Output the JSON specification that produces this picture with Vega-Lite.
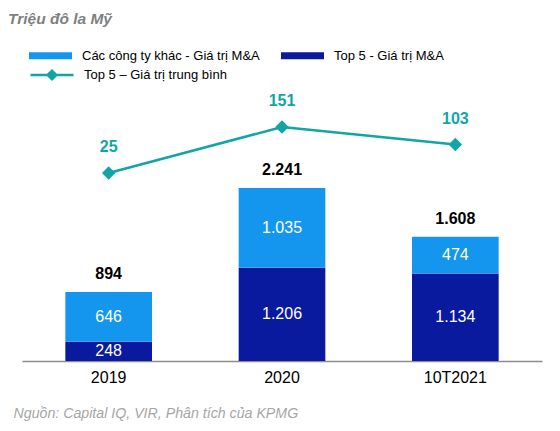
{
  "$schema": "https://vega.github.io/schema/vega-lite/v6.json",
  "autosize": {"type": "none"},
  "width": 520,
  "height": 261,
  "padding": {"left": 22, "top": 100, "right": 18, "bottom": 70},
  "background": "white",
  "config": {
    "view": {"stroke": null},
    "font": "Liberation Sans",
    "locale": {"number": {"decimal": ",", "thousands": ".", "grouping": [3], "currency": ["", ""]}}
  },
  "title": {
    "text": "Triệu đô la Mỹ",
    "anchor": "start",
    "frame": "group",
    "dx": -14,
    "dy": 13,
    "offset": 8,
    "baseline": "alphabetic",
    "font": "Liberation Sans",
    "fontSize": 15.5,
    "fontStyle": "italic",
    "fontWeight": "bold",
    "color": "#7f7f7f"
  },
  "datasets": {
    "bars": [
      {"year": "2019", "series": "Top 5 - Giá trị M&A", "value": 248, "ord": 1},
      {"year": "2019", "series": "Các công ty khác - Giá trị M&A", "value": 646, "ord": 2},
      {"year": "2020", "series": "Top 5 - Giá trị M&A", "value": 1206, "ord": 1},
      {"year": "2020", "series": "Các công ty khác - Giá trị M&A", "value": 1035, "ord": 2},
      {"year": "10T2021", "series": "Top 5 - Giá trị M&A", "value": 1134, "ord": 1},
      {"year": "10T2021", "series": "Các công ty khác - Giá trị M&A", "value": 474, "ord": 2}
    ],
    "years": [
      {"year": "2019", "total": 894, "avg": 25, "line": "Top 5 – Giá trị trung bình"},
      {"year": "2020", "total": 2241, "avg": 151, "line": "Top 5 – Giá trị trung bình"},
      {"year": "10T2021", "total": 1608, "avg": 103, "line": "Top 5 – Giá trị trung bình"}
    ]
  },
  "encoding": {
    "x": {
      "field": "year",
      "type": "nominal",
      "sort": ["2019", "2020", "10T2021"],
      "scale": {"paddingInner": 0.5, "paddingOuter": 0.25},
      "axis": {
        "title": "Nguồn: Capital IQ, VIR, Phân tích của KPMG",
        "titleAnchor": "start",
        "titleAlign": "left",
        "titleX": -9,
        "titleY": 56,
        "titleBaseline": "alphabetic",
        "titleFont": "Liberation Sans",
        "titleFontSize": 14.2,
        "titleFontStyle": "italic",
        "titleFontWeight": "normal",
        "titleColor": "#a6a6a6",
        "labelAngle": 0,
        "labelFont": "Liberation Sans",
        "labelFontSize": 16,
        "labelColor": "#000000",
        "labelPadding": 8,
        "ticks": false,
        "domainColor": "#8c8c8c",
        "domainWidth": 1.5
      }
    }
  },
  "layer": [
    {
      "layer": [
        {
          "data": {"name": "bars"},
          "mark": {"type": "bar"},
          "encoding": {
            "y": {"field": "value", "type": "quantitative", "stack": "zero", "scale": {"domain": [0, 3380], "nice": false}, "axis": null},
            "color": {
              "field": "series",
              "type": "nominal",
              "scale": {"domain": ["Các công ty khác - Giá trị M&A", "Top 5 - Giá trị M&A"], "range": ["#1596ee", "#0a1a9e"]},
              "legend": {
                "orient": "none",
                "legendX": 7,
                "legendY": -66,
                "title": null,
                "direction": "horizontal",
                "columns": 2,
                "columnPadding": 21,
                "symbolType": "M-1,-0.16H1V0.16H-1Z",
                "symbolSize": 1849,
                "symbolStrokeWidth": 0,
                "labelOffset": 10,
                "labelFont": "Liberation Sans",
                "labelFontSize": 13,
                "labelColor": "#000000",
                "labelLimit": 400
              }
            },
            "order": {"field": "ord", "type": "quantitative"}
          }
        },
        {
          "data": {"name": "bars"},
          "transform": [
            {"stack": "value", "groupby": ["year"], "sort": [{"field": "ord"}], "as": ["v0", "v1"]},
            {"calculate": "(datum.v0 + datum.v1) / 2", "as": "mid"}
          ],
          "mark": {"type": "text", "color": "white", "fontSize": 16, "font": "Liberation Sans", "baseline": "middle"},
          "encoding": {
            "y": {"field": "mid", "type": "quantitative", "scale": {"domain": [0, 3380], "nice": false}, "axis": null},
            "text": {"field": "value", "type": "quantitative", "format": ",d"}
          }
        },
        {
          "data": {"name": "years"},
          "mark": {"type": "text", "color": "black", "fontSize": 16, "fontWeight": "bold", "font": "Liberation Sans", "baseline": "middle", "dy": -18},
          "encoding": {
            "y": {"field": "total", "type": "quantitative", "scale": {"domain": [0, 3380], "nice": false}, "axis": null},
            "text": {"field": "total", "type": "quantitative", "format": ",d"}
          }
        }
      ]
    },
    {
      "layer": [
        {
          "data": {"name": "years"},
          "mark": {"type": "line", "strokeWidth": 2.5},
          "encoding": {
            "y": {"field": "avg", "type": "quantitative", "scale": {"domain": [-490, 225], "nice": false}, "axis": null},
            "color": {
              "field": "line",
              "type": "nominal",
              "scale": {"range": ["#11a5a5"]},
              "legend": {
                "orient": "none",
                "legendX": 7,
                "legendY": -48,
                "title": null,
                "symbolType": "M-1,0H1M-0.2,0L0,-0.2L0.2,0L0,0.2Z",
                "symbolSize": 1849,
                "symbolStrokeWidth": 2.5,
                "symbolFillColor": "#11a5a5",
                "symbolStrokeColor": "#11a5a5",
                "labelOffset": 9,
                "labelFont": "Liberation Sans",
                "labelFontSize": 13,
                "labelColor": "#000000",
                "labelLimit": 400
              }
            }
          }
        },
        {
          "data": {"name": "years"},
          "mark": {"type": "point", "shape": "diamond", "filled": true, "size": 180, "color": "#11a5a5", "opacity": 1},
          "encoding": {
            "y": {"field": "avg", "type": "quantitative", "scale": {"domain": [-490, 225], "nice": false}, "axis": null}
          }
        },
        {
          "data": {"name": "years"},
          "mark": {"type": "text", "color": "#11a5a5", "fontSize": 16, "fontWeight": "bold", "font": "Liberation Sans", "baseline": "middle", "dy": -26},
          "encoding": {
            "y": {"field": "avg", "type": "quantitative", "scale": {"domain": [-490, 225], "nice": false}, "axis": null},
            "text": {"field": "avg", "type": "quantitative"}
          }
        }
      ]
    }
  ],
  "resolve": {"scale": {"y": "independent", "color": "independent"}}
}
